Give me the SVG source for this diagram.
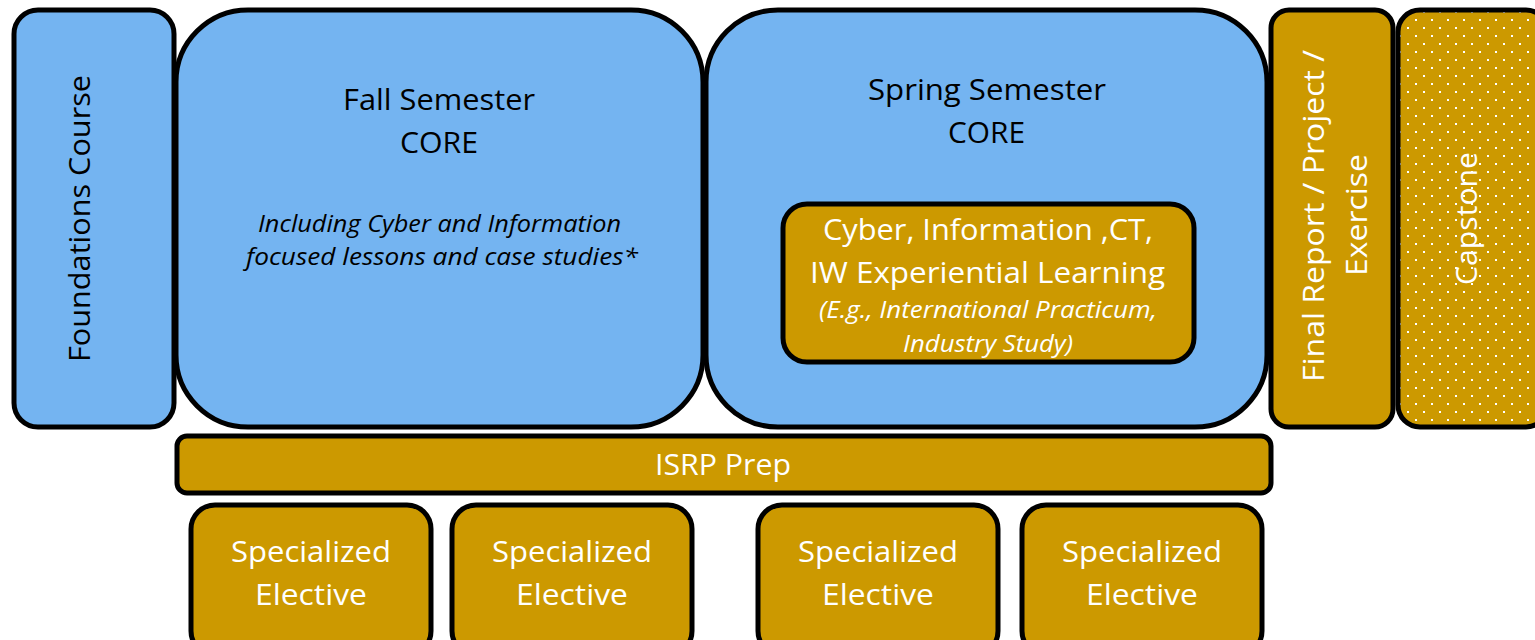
<svg xmlns="http://www.w3.org/2000/svg" width="1535" height="640" viewBox="0 0 1535 640">
<defs>
<pattern id="dots" x="0" y="0" width="16" height="16" patternUnits="userSpaceOnUse">
<rect width="16" height="16" fill="#CC9900"/>
<rect x="7" y="3" width="2" height="2" fill="#fff"/>
<rect x="15" y="11" width="2" height="2" fill="#fff"/>
<rect x="-1" y="11" width="2" height="2" fill="#fff"/>
</pattern>
</defs>
<style>
.blue{fill:#74B4F1;stroke:#000;stroke-width:5}
.gold{fill:#CC9900;stroke:#000;stroke-width:5}
.t{font-family:"Open Sans","Noto Sans",sans-serif;text-anchor:middle;font-size:30px}
.dk{fill:#000}
.wt{fill:#fff}
.it{font-style:italic;font-size:23px}
</style>
<rect width="1535" height="640" fill="#fff"/>
<g id="foundations">
<rect class="blue" x="14" y="10" width="160" height="417" rx="24"/>
<text class="t dk" textLength="287" lengthAdjust="spacingAndGlyphs" transform="translate(90,218.5) rotate(-90)">Foundations Course</text>
</g>
<g id="fall">
<rect class="blue" x="176" y="10" width="527" height="417" rx="72"/>
<text class="t dk" x="439" y="110" textLength="192" lengthAdjust="spacingAndGlyphs">Fall Semester</text>
<text class="t dk" x="439" y="153" textLength="78" lengthAdjust="spacingAndGlyphs">CORE</text>
<text class="t dk it" x="439.5" y="232" textLength="363" lengthAdjust="spacingAndGlyphs">Including Cyber and Information</text>
<text class="t dk it" x="442" y="265" textLength="392" lengthAdjust="spacingAndGlyphs">focused lessons and case studies*</text>
</g>
<g id="spring">
<rect class="blue" x="706" y="10" width="561" height="417" rx="72"/>
<text class="t dk" x="987" y="100" textLength="238" lengthAdjust="spacingAndGlyphs">Spring Semester</text>
<text class="t dk" x="986.5" y="143" textLength="77" lengthAdjust="spacingAndGlyphs">CORE</text>
</g>
<g id="experiential">
<rect class="gold" x="783" y="204" width="411" height="158" rx="24"/>
<text class="t wt" x="988" y="240" textLength="330" lengthAdjust="spacingAndGlyphs">Cyber, Information ,CT,</text>
<text class="t wt" x="987.5" y="283" textLength="355" lengthAdjust="spacingAndGlyphs">IW Experiential Learning</text>
<text class="t wt it" x="988" y="318" textLength="338" lengthAdjust="spacingAndGlyphs">(E.g., International Practicum,</text>
<text class="t wt it" x="988" y="352" textLength="170" lengthAdjust="spacingAndGlyphs">Industry Study)</text>
</g>
<g id="final">
<rect class="gold" x="1271" y="10" width="122" height="417" rx="18"/>
<text class="t wt" textLength="332" lengthAdjust="spacingAndGlyphs" transform="translate(1324,216) rotate(-90)">Final Report / Project /</text>
<text class="t wt" textLength="122" lengthAdjust="spacingAndGlyphs" transform="translate(1367,215) rotate(-90)">Exercise</text>
</g>
<g id="capstone">
<rect x="1398" y="10" width="150" height="417" rx="22" fill="url(#dots)" stroke="#000" stroke-width="5"/>
<text class="t wt" textLength="133" lengthAdjust="spacingAndGlyphs" transform="translate(1477,218.5) rotate(-90)">Capstone</text>
</g>
<g id="isrp">
<rect class="gold" x="177" y="436" width="1094" height="57" rx="10"/>
<text class="t wt" x="723" y="475" textLength="136" lengthAdjust="spacingAndGlyphs">ISRP Prep</text>
</g>
<g id="elective1">
<rect class="gold" x="191" y="505" width="240" height="150" rx="24"/>
<text class="t wt" x="311" y="562" textLength="160" lengthAdjust="spacingAndGlyphs">Specialized</text>
<text class="t wt" x="311" y="605" textLength="112" lengthAdjust="spacingAndGlyphs">Elective</text>
</g>
<g id="elective2">
<rect class="gold" x="452" y="505" width="240" height="150" rx="24"/>
<text class="t wt" x="572" y="562" textLength="160" lengthAdjust="spacingAndGlyphs">Specialized</text>
<text class="t wt" x="572" y="605" textLength="112" lengthAdjust="spacingAndGlyphs">Elective</text>
</g>
<g id="elective3">
<rect class="gold" x="758" y="505" width="240" height="150" rx="24"/>
<text class="t wt" x="878" y="562" textLength="160" lengthAdjust="spacingAndGlyphs">Specialized</text>
<text class="t wt" x="878" y="605" textLength="112" lengthAdjust="spacingAndGlyphs">Elective</text>
</g>
<g id="elective4">
<rect class="gold" x="1022" y="505" width="240" height="150" rx="24"/>
<text class="t wt" x="1142" y="562" textLength="160" lengthAdjust="spacingAndGlyphs">Specialized</text>
<text class="t wt" x="1142" y="605" textLength="112" lengthAdjust="spacingAndGlyphs">Elective</text>
</g>
<g id="connectors"></g>
</svg>
